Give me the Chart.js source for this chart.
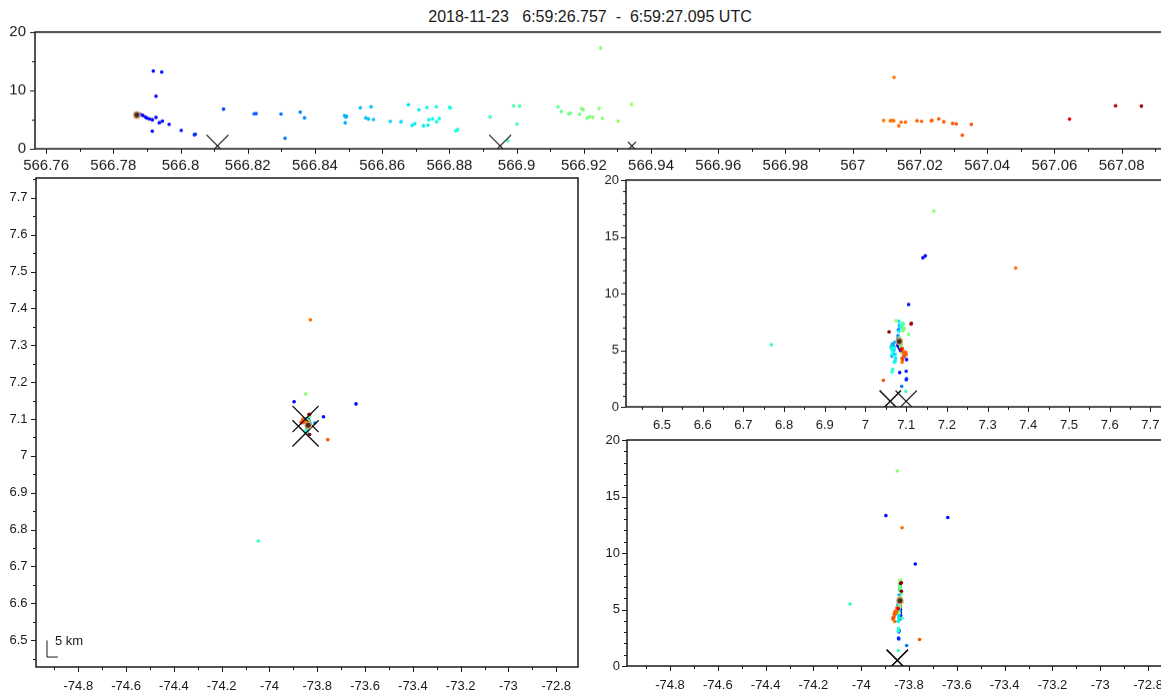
<!DOCTYPE html>
<html>
<head>
<meta charset="utf-8">
<script src="https://cdn.jsdelivr.net/npm/chart.js@4.4.0/dist/chart.umd.min.js"></script>
<style>
  html, body { margin: 0; padding: 0; background: #fff; overflow: hidden; }
  #page { position: relative; width: 1161px; height: 694px; overflow: hidden; }
  canvas { position: absolute; }
  #title {
    position: absolute; left: 0; width: 1180px; top: 8px; line-height: 18px;
    text-align: center; white-space: pre; color: #1a1a1a;
    font: 16px "Liberation Sans", Arial, sans-serif;
  }
</style>
</head>
<body>
<div id="page">
  <div id="title">2018-11-23   6:59:26.757  -  6:59:27.095 UTC</div>
  <canvas id="timeAlt"></canvas>
  <canvas id="planView"></canvas>
  <canvas id="latAlt"></canvas>
  <canvas id="lonAlt"></canvas>
</div>
<script>
// VHF sources: time (s after 6:50 UTC), altitude (km), latitude, longitude
const srcTime = [
  566.7870, 566.7880, 566.7888, 566.7896, 566.7900, 566.7907, 566.7916, 566.7916, 566.7919, 566.7927,
  566.7927, 566.7937, 566.7944, 566.7946, 566.7966, 566.8002, 566.8041, 566.8044, 566.8128, 566.8219,
  566.8225, 566.8299, 566.8311, 566.8356, 566.8369, 566.8488, 566.8490, 566.8492, 566.8494, 566.8535,
  566.8551, 566.8559, 566.8567, 566.8574, 566.8624, 566.8656, 566.8678, 566.8689, 566.8697, 566.8709,
  566.8723, 566.8733, 566.8736, 566.8739, 566.8750, 566.8761, 566.8762, 566.8770, 566.8800, 566.8803,
  566.8819, 566.8825, 566.8921, 566.8974, 566.8991, 566.9001, 566.9009, 566.9123, 566.9133, 566.9155,
  566.9160, 566.9187, 566.9193, 566.9198, 566.9210, 566.9218, 566.9227, 566.9245, 566.9250, 566.9255,
  566.9302, 566.9342, 567.0092, 567.0112, 567.0117, 567.0122, 567.0123, 567.0137, 567.0144, 567.0157,
  567.0191, 567.0205, 567.0234, 567.0236, 567.0256, 567.0271, 567.0297, 567.0308, 567.0326, 567.0353,
  567.0645, 567.0782, 567.0859, 567.0935
];
const srcAlt = [
  6.10, 5.88, 5.71, 5.43, 5.26, 5.14, 4.97, 3.02, 13.31, 5.37,
  9.02, 4.46, 13.14, 4.74, 4.17, 3.14, 2.40, 2.48, 6.79, 6.00,
  6.02, 5.95, 1.82, 6.28, 5.31, 5.70, 4.46, 5.45, 5.55, 7.03,
  5.30, 5.10, 7.20, 5.00, 4.68, 4.63, 7.54, 4.00, 4.29, 6.69,
  3.94, 7.08, 4.06, 4.97, 5.14, 7.20, 4.63, 5.20, 7.10, 7.00,
  3.08, 3.31, 5.48, 1.37, 7.37, 4.23, 7.31, 7.20, 6.40, 6.00,
  6.10, 5.90, 6.90, 6.70, 5.26, 5.50, 5.40, 6.90, 17.26, 5.20,
  4.74, 7.60, 4.85, 4.80, 4.85, 4.80, 12.23, 3.94, 4.57, 4.57,
  4.80, 4.70, 4.80, 4.85, 5.14, 4.63, 4.34, 4.28, 2.34, 4.17,
  5.08, 7.37, 7.31, 6.62
];
const srcLat = [
  7.081, 7.082, 7.080, 7.079, 7.082, 7.084, 7.086, 7.084, 7.147, 7.083,
  7.106, 7.095, 7.141, 7.093, 7.101, 7.100, 7.100, 7.101, 7.081, 7.080,
  7.081, 7.082, 7.089, 7.080, 7.070, 7.072, 7.065, 7.068, 7.066, 7.085,
  7.063, 7.067, 7.083, 7.070, 7.069, 7.073, 7.082, 7.072, 7.074, 7.082,
  7.071, 7.086, 7.073, 7.066, 7.064, 7.088, 7.065, 7.070, 7.087, 7.089,
  7.065, 7.067, 6.769, 7.099, 7.091, 7.090, 7.093, 7.090, 7.106, 7.085,
  7.083, 7.084, 7.095, 7.092, 7.087, 7.088, 7.086, 7.096, 7.168, 7.089,
  7.090, 7.075, 7.093, 7.095, 7.097, 7.094, 7.369, 7.090, 7.098, 7.096,
  7.099, 7.095, 7.097, 7.094, 7.091, 7.100, 7.092, 7.090, 7.044, 7.091,
  7.088, 7.113, 7.112, 7.058
];
const srcLon = [
  -73.840, -73.839, -73.841, -73.842, -73.843, -73.838, -73.836, -73.843, -73.897, -73.837,
  -73.774, -73.835, -73.638, -73.836, -73.838, -73.842, -73.843, -73.844, -73.839, -73.840,
  -73.838, -73.840, -73.810, -73.841, -73.842, -73.843, -73.842, -73.845, -73.844, -73.838,
  -73.846, -73.845, -73.838, -73.843, -73.844, -73.845, -73.836, -73.844, -73.843, -73.838,
  -73.845, -73.837, -73.843, -73.842, -73.844, -73.836, -73.843, -73.841, -73.838, -73.837,
  -73.845, -73.844, -74.047, -73.845, -73.838, -73.829, -73.839, -73.840, -73.832, -73.840,
  -73.841, -73.839, -73.838, -73.837, -73.840, -73.839, -73.838, -73.840, -73.849, -73.840,
  -73.841, -73.837, -73.852, -73.855, -73.857, -73.853, -73.829, -73.860, -73.858, -73.862,
  -73.856, -73.859, -73.854, -73.857, -73.851, -73.860, -73.863, -73.866, -73.756, -73.867,
  -73.845, -73.832, -73.835, -73.832
];

// first source of the flash
const firstTime = 566.787, firstAlt = 5.78, firstLat = 7.083, firstLon = -73.838;

// ground strokes
const strokeTime = [566.8110, 566.8951, 566.9343];
const strokeLat = [7.061, 7.100, 7.061];
const strokeLon = [-73.849, -73.849, -73.849];
const strokeAlt = [0.5, 0.5, 0.5];

// tick labels
const timeTicks = [566.76, 566.78, 566.8, 566.82, 566.84, 566.86, 566.88, 566.9, 566.92, 566.94, 566.96, 566.98, 567, 567.02, 567.04, 567.06, 567.08];
const timeAltTicks = [0, 10, 20];
const lonTicks = [-74.8, -74.6, -74.4, -74.2, -74, -73.8, -73.6, -73.4, -73.2, -73, -72.8];
const latTicks = [6.5, 6.6, 6.7, 6.8, 6.9, 7, 7.1, 7.2, 7.3, 7.4, 7.5, 7.6, 7.7];
const altTicks = [0, 5, 10, 15, 20];

// colour by time (jet-like map)
const colorStart = 566.747, colorEnd = 567.094;
const JET = {
  r: [[0, 0], [0.35, 0], [0.66, 1], [0.89, 1], [1, 0.5]],
  g: [[0, 0], [0.125, 0], [0.375, 1], [0.64, 1], [0.76, 0.45], [0.83, 0.3], [0.91, 0], [1, 0]],
  b: [[0, 0.5], [0.11, 1], [0.34, 1], [0.65, 0], [1, 0]]
};
function seg(stops, v) {
  for (let i = 1; i < stops.length; i++) {
    if (v <= stops[i][0]) {
      const [x0, y0] = stops[i - 1], [x1, y1] = stops[i];
      return y0 + (y1 - y0) * (v - x0) / (x1 - x0);
    }
  }
  return stops[stops.length - 1][1];
}
function timeColor(t) {
  const v = Math.min(1, Math.max(0, (t - colorStart) / (colorEnd - colorStart)));
  const c = k => Math.round(255 * seg(JET[k], v));
  return `rgb(${c('r')},${c('g')},${c('b')})`;
}
const srcColors = srcTime.map(timeColor);

const FONT = "'Liberation Sans', Arial, sans-serif";
const LEFT_W = 60, TOP_P = 10, RIGHT_P = 10, BOTTOM_H = 40;
const fmt = v => String(+v.toFixed(4));

function makeFrame(xc, yc) {
  return {
    id: 'frame',
    afterDatasetsDraw(chart) {
      const {ctx, chartArea: a, scales: {x, y}} = chart;
      ctx.save();
      ctx.strokeStyle = '#1a1a1a';
      ctx.lineWidth = 1.5;
      ctx.strokeRect(a.left, a.top, a.right - a.left, a.bottom - a.top);
      ctx.lineWidth = 1;
      ctx.beginPath();
      const isMajor = (v, m) => Math.abs(v / m - Math.round(v / m)) < 1e-6;
      for (let k = Math.ceil(xc.min / xc.minor - 1e-6); k <= Math.floor(xc.max / xc.minor + 1e-6); k++) {
        const v = k * xc.minor, px = Math.round(x.getPixelForValue(v)) + 0.5;
        const len = isMajor(v, xc.major) ? 5 : 3;
        ctx.moveTo(px, a.bottom); ctx.lineTo(px, a.bottom + len);
      }
      for (let k = Math.ceil(yc.min / yc.minor - 1e-6); k <= Math.floor(yc.max / yc.minor + 1e-6); k++) {
        const v = k * yc.minor, py = Math.round(y.getPixelForValue(v)) + 0.5;
        const len = isMajor(v, yc.major) ? 5 : 3;
        ctx.moveTo(a.left, py); ctx.lineTo(a.left - len, py);
      }
      ctx.stroke();
      ctx.restore();
    }
  };
}

function axis(c, dir) {
  return {
    type: 'linear', min: c.min, max: c.max,
    grid: { display: false, drawTicks: false },
    border: { display: false },
    afterBuildTicks: s => { s.ticks = c.ticks.map(v => ({ value: v })); },
    afterFit: s => {
      if (dir === 'x') s.height = BOTTOM_H; else s.width = LEFT_W;
      s.paddingLeft = s.paddingRight = s.paddingTop = s.paddingBottom = 0;
    },
    ticks: {
      padding: c.pad, autoSkip: false, maxRotation: 0, minRotation: 0,
      color: '#1a1a1a', font: { family: FONT, size: c.font },
      callback: v => fmt(v)
    }
  };
}

function panel(id, area, xc, yc, datasets, extra) {
  const cv = document.getElementById(id);
  const w = area.r - area.l + LEFT_W + RIGHT_P;
  const h = area.b - area.t + TOP_P + BOTTOM_H;
  cv.width = w; cv.height = h;
  cv.style.width = w + 'px'; cv.style.height = h + 'px';
  cv.style.left = (area.l - LEFT_W) + 'px';
  cv.style.top = (area.t - TOP_P) + 'px';
  return new Chart(cv, {
    type: 'scatter',
    data: { datasets },
    options: {
      responsive: false, animation: false, devicePixelRatio: 1,
      layout: { autoPadding: false, padding: { left: 0, top: TOP_P, right: RIGHT_P, bottom: 0 } },
      plugins: { legend: { display: false }, tooltip: { enabled: false } },
      scales: { x: axis(xc, 'x'), y: axis(yc, 'y') }
    },
    plugins: [makeFrame(xc, yc)].concat(extra || [])
  });
}

function sets(xs, ys, fx, fy, sx, sy, strokeSize) {
  return [
    {
      data: xs.map((v, i) => ({ x: v, y: ys[i] })),
      backgroundColor: srcColors, pointRadius: 1.8, borderWidth: 0,
      pointStyle: 'circle', clip: 0, order: 2
    },
    {
      data: sx.map((v, i) => ({ x: v, y: sy[i] })),
      pointStyle: 'crossRot', pointRadius: strokeSize, borderColor: '#111',
      borderWidth: 1.1, backgroundColor: 'transparent', clip: 0, order: 1
    },
    {
      data: [{ x: fx, y: fy }],
      pointRadius: 3.2, backgroundColor: '#333', borderColor: 'rgba(240,170,100,0.8)',
      borderWidth: 1.5, clip: 0, order: 0
    }
  ];
}

// time vs altitude
panel('timeAlt', { l: 35, t: 32, r: 1171, b: 148.5 },
  { min: 566.7567, max: 567.0947, ticks: timeTicks, minor: 0.01, major: 0.02, font: 15, pad: 7.5 },
  { min: 0, max: 20, ticks: timeAltTicks, minor: 5, major: 10, font: 15, pad: 9 },
  sets(srcTime, srcAlt, firstTime, firstAlt, strokeTime, strokeAlt, [15.5, 15.5, 5.7]));

// 5 km scale bar in plan view
const scaleBar = {
  id: 'scaleBar',
  afterDraw(chart) {
    const {ctx, scales: {x, y}} = chart;
    const lon0 = -74.931, lat0 = 6.454, dLat = 5 / 111.2, dLon = 5 / (111.2 * Math.cos(7.08 * Math.PI / 180));
    const x0 = x.getPixelForValue(lon0), y0 = y.getPixelForValue(lat0);
    const x1 = x.getPixelForValue(lon0 + dLon), y1 = y.getPixelForValue(lat0 + dLat);
    ctx.save();
    ctx.strokeStyle = '#1a1a1a'; ctx.lineWidth = 1;
    ctx.beginPath();
    ctx.moveTo(x0, y1); ctx.lineTo(x0, y0); ctx.lineTo(x1, y0);
    ctx.stroke();
    ctx.fillStyle = '#1a1a1a';
    ctx.font = '13px ' + FONT;
    ctx.textBaseline = 'middle';
    ctx.fillText('5 km', x0 + 8, y1 + 1);
    ctx.restore();
  }
};

// plan view
panel('planView', { l: 36, t: 178, r: 578, b: 667 },
  { min: -74.977, max: -72.709, ticks: lonTicks, minor: 0.1, major: 0.2, font: 13, pad: 12 },
  { min: 6.427, max: 7.754, ticks: latTicks, minor: 0.05, major: 0.1, font: 13, pad: 8.5 },
  sets(srcLon, srcLat, firstLon, firstLat, strokeLon, strokeLat, [18.4, 18.4, 18.4]),
  [scaleBar]);

// latitude vs altitude
panel('latAlt', { l: 626, t: 180, r: 1171, b: 406.5 },
  { min: 6.4116, max: 7.7507, ticks: latTicks, minor: 0.05, major: 0.1, font: 13, pad: 10.5 },
  { min: 0, max: 20, ticks: altTicks, minor: 1, major: 5, font: 13, pad: 7 },
  sets(srcLat, srcAlt, firstLat, firstAlt, strokeLat, strokeAlt, [15, 15, 15]));

// longitude vs altitude
panel('lonAlt', { l: 627, t: 440, r: 1171, b: 666 },
  { min: -74.98, max: -72.704, ticks: lonTicks, minor: 0.1, major: 0.2, font: 13, pad: 12 },
  { min: 0, max: 20, ticks: altTicks, minor: 1, major: 5, font: 13, pad: 7 },
  sets(srcLon, srcAlt, firstLon, firstAlt, strokeLon, strokeAlt, [15, 15, 15]));
</script>
</body>
</html>
